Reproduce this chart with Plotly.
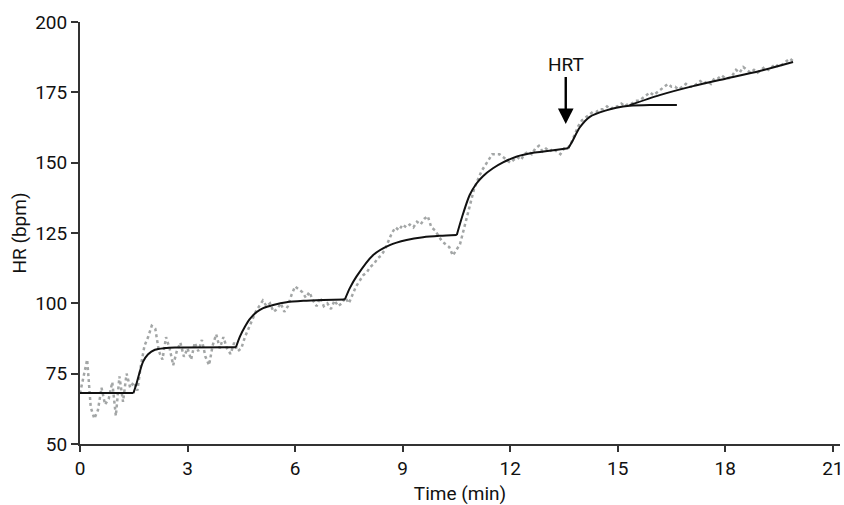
import numpy as np
import plotly.graph_objects as go

# ---- raw heart-rate samples (every 0.1 min) ----
hr_time = np.round(np.arange(0, 200) * 0.1, 2)
hr_values = [
    68, 74, 80, 63, 59, 62, 70, 64, 66, 72, 60, 74, 65, 75, 70,          # 0.0-1.4
    72, 69, 78, 85, 88, 92, 91, 83, 80, 88, 84, 78, 83, 86, 81,          # 1.5-2.9
    84, 80, 86, 83, 87, 81, 78, 85, 89, 84, 88, 84, 82, 86, 83,          # 3.0-4.4
    84, 88, 91, 94, 97, 99, 101, 99, 100, 97, 98, 100, 97, 99, 103,      # 4.5-5.9
    106, 105, 104, 102, 104, 101, 99, 102, 99, 100, 98, 101, 99, 100, 102,  # 6.0-7.4
    100, 103, 106, 108, 110, 111, 113, 114, 116, 117, 119, 122, 125, 127, 126,  # 7.5-8.9
    128, 127, 128, 127, 129, 128, 130, 131, 127, 126, 124, 122, 121, 120, 117,  # 9.0-10.4
    119, 121, 126, 131, 137, 141, 144, 147, 149, 151, 153, 153, 153, 152, 151,  # 10.5-11.9
    150, 151, 152, 151, 153, 154, 153, 155, 156, 154, 155, 154, 155, 154, 153,  # 12.0-13.4
    155, 155, 157, 160, 163, 165, 166, 167, 168, 168, 169, 169, 170, 169, 170,  # 13.5-14.9
    170, 171, 170, 171, 171, 172, 172, 173, 174, 175, 174, 175, 176, 177, 178,  # 15.0-16.4
    177, 177, 176, 177, 178, 177, 177, 178, 179, 178, 179, 178, 180, 180, 181,  # 16.5-17.9
    180, 180, 181, 183, 182, 184, 183, 182, 183, 182, 183, 184, 183, 184, 185,  # 18.0-19.4
    184, 185, 186, 187, 186,                                               # 19.5-19.9
]

# ---- fitted mono-exponential stage curves ----
fit_t = [
    [0.0, 1.49],
    [1.49, 1.58, 1.67, 1.76, 1.90, 2.09, 2.37, 2.65, 4.35],
    [4.35, 4.46, 4.60, 4.74, 4.93, 5.11, 5.39, 5.76, 6.23, 6.78, 7.39],
    [7.39, 7.53, 7.71, 8.18, 8.64, 9.11, 9.57, 10.04, 10.51],
    [10.51, 10.69, 10.87, 11.06, 11.24, 11.52, 11.80, 12.17, 12.64, 13.10, 13.62],
    [13.62, 13.75, 13.94, 14.22, 14.68, 14.96, 15.33, 15.89, 16.65],
]
fit_hr = [
    [68.1, 68.1],
    [68.1, 71.6, 75.8, 79.3, 81.9, 83.5, 84.1, 84.3, 84.4],
    [84.4, 88.2, 91.7, 94.5, 96.9, 98.3, 99.4, 100.4, 100.9, 101.2, 101.4],
    [101.4, 105.5, 109.5, 117.2, 120.7, 122.5, 123.5, 124.0, 124.3],
    [124.3, 132.0, 138.5, 142.6, 145.2, 148.0, 150.1, 152.1, 153.5, 154.2, 155.1],
    [155.1, 158.0, 162.5, 166.3, 168.6, 169.5, 170.2, 170.5, 170.5],
]
# post-HRT linear segment
lin_t = [15.33, 16.17, 17.10, 18.03, 18.96, 19.89]
lin_hr = [170.4, 174.0, 177.2, 179.9, 182.6, 185.8]

x_ticks = [0, 3, 6, 9, 12, 15, 18, 21]
y_ticks = [50, 75, 100, 125, 150, 175, 200]

FONT = "Roboto, Liberation Sans, Arial, sans-serif"
FS = 19

fig = go.Figure()
fig.add_trace(go.Scatter(
    x=hr_time, y=hr_values, mode="lines",
    line=dict(color="#a3a6a6", width=2.5, dash="dot"),
    hoverinfo="skip", showlegend=False))

for ts, hs in zip(fit_t, fit_hr):
    fig.add_trace(go.Scatter(
        x=ts, y=hs, mode="lines",
        line=dict(color="#111111", width=2, shape="spline", smoothing=0.8),
        showlegend=False))

fig.add_trace(go.Scatter(
    x=lin_t, y=lin_hr, mode="lines",
    line=dict(color="#111111", width=2, shape="spline", smoothing=0.8),
    showlegend=False))

fig.add_annotation(
    x=13.55, y=163.7, xref="x", yref="y",
    text="HRT", showarrow=True,
    ax=0, ay=-60, arrowhead=2, arrowsize=1.3, arrowwidth=2.4,
    arrowcolor="#000000",
    font=dict(family=FONT, size=FS, color="#111111"))

fig.update_layout(
    width=844, height=505,
    margin=dict(l=80, r=4, t=22, b=61),
    plot_bgcolor="white", paper_bgcolor="white",
    font=dict(family=FONT, size=FS, color="#111111"),
)
fig.update_xaxes(
    range=[0, 21.2], tickvals=x_ticks, ticks="outside", ticklen=6,
    tickwidth=1.5, tickcolor="#333333", automargin=False,
    showline=True, linecolor="#333333", linewidth=2,
    showgrid=False, zeroline=False,
    title=dict(text="Time (min)", standoff=8,
               font=dict(family=FONT, size=FS)),
    tickfont=dict(family=FONT, size=FS))
fig.update_yaxes(
    range=[50, 200], tickvals=y_ticks, ticks="outside", ticklen=7,
    tickwidth=1.5, tickcolor="#333333", automargin=False,
    showline=True, linecolor="#333333", linewidth=2,
    showgrid=False, zeroline=False,
    title=dict(text="HR (bpm)", standoff=4,
               font=dict(family=FONT, size=FS)),
    tickfont=dict(family=FONT, size=FS))

fig.write_html(
    "out.html",
    config={"displayModeBar": False},
    post_script="document.body.style.margin='0';document.body.style.overflow='hidden';")
